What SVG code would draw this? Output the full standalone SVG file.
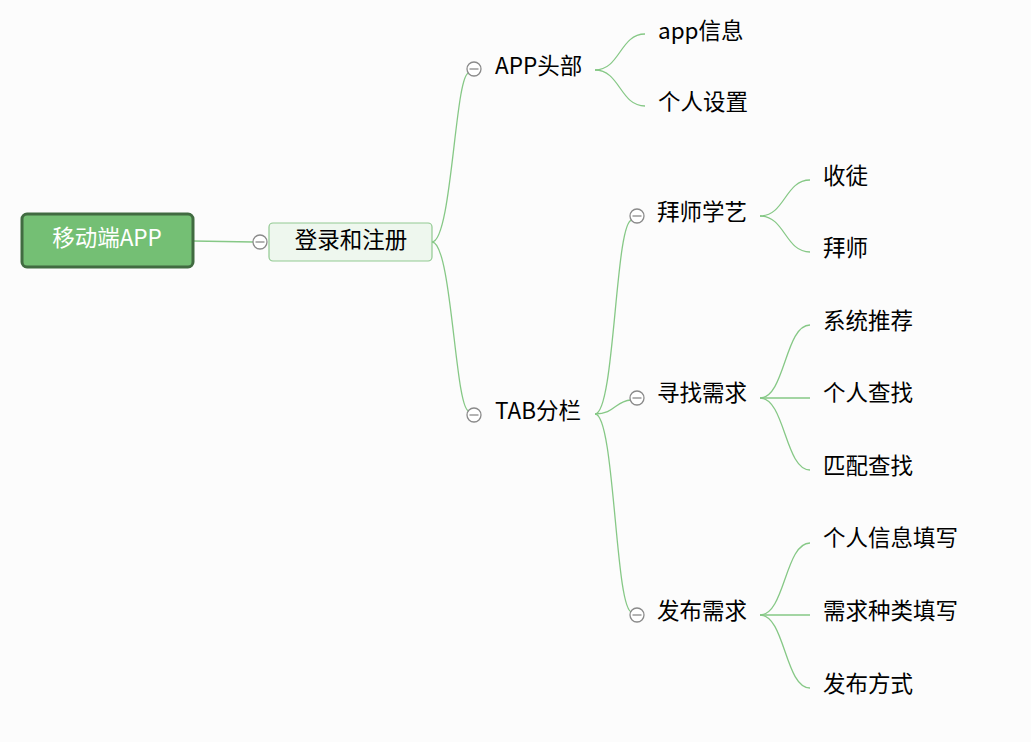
<svg xmlns="http://www.w3.org/2000/svg" width="1031" height="742" viewBox="0 0 1031 742">
<style>
text{font-family:"Microsoft YaHei","Noto Sans CJK SC","Noto Sans",sans-serif;font-size:22.5px;fill:#000;dominant-baseline:central}
.c{fill:none;stroke:#86c886;stroke-width:1.3}
.t{fill:#fff;stroke:#8a8a8a;stroke-width:1.3}
.m{stroke:#8a8a8a;stroke-width:1.3}
</style>
<defs>
<g id="tog"><circle class="t" cx="0" cy="0" r="7"/><line class="m" x1="-4.5" y1="0" x2="4.5" y2="0"/></g>
</defs>
<rect width="1031" height="742" fill="#fcfcfc"/>
<g id="connectors">
<path class="c" d="M193,241 L253,242"/>
<path class="c" d="M432,242 C452,242 455,72 469,73"/>
<path class="c" d="M432,242 C452,242 455,411 469,411"/>
<path class="c" d="M595,70 C620,70 620,34 645,34"/>
<path class="c" d="M595,70 C620,70 620,106 645,106"/>
<path class="c" d="M595,414 C615,414 615,220 632,220"/>
<path class="c" d="M595,414 C615,414 615,401 631,400"/>
<path class="c" d="M595,414 C615,414 615,612 632,612"/>
<path class="c" d="M760,216 C785,216 785,180 810,180"/>
<path class="c" d="M760,216 C785,216 785,252 810,252"/>
<path class="c" d="M760,398 C785,398 785,325 810,325"/>
<path class="c" d="M760,398 L810,398"/>
<path class="c" d="M760,398 C785,398 785,470 810,470"/>
<path class="c" d="M760,615 C785,615 785,543 810,543"/>
<path class="c" d="M760,615 L810,615"/>
<path class="c" d="M760,615 C785,615 785,688 810,688"/>
</g>
<g id="root">
<rect x="22" y="214" width="171" height="53" rx="5" fill="#74bf74" stroke="#416b41" stroke-width="3"/>
<text x="107" y="236" text-anchor="middle" style="fill:#fff">移动端APP</text>
</g>
<g id="login">
<use href="#tog" x="260" y="242"/>
<rect x="269" y="223" width="163" height="38" rx="4" fill="#eef7ee" stroke="#91c991" stroke-width="1.2"/>
<text x="351" y="238" text-anchor="middle">登录和注册</text>
</g>
<g id="apphead"><use href="#tog" x="474" y="69"/><text x="495" y="64">APP头部</text></g>
<g id="appinfo"><text x="658" y="29">app信息</text></g>
<g id="settings"><text x="658" y="100">个人设置</text></g>
<g id="tab"><use href="#tog" x="474" y="415"/><text x="495" y="409">TAB分栏</text></g>
<g id="bsxy"><use href="#tog" x="637" y="216"/><text x="657" y="210">拜师学艺</text></g>
<g id="st"><text x="823" y="174">收徒</text></g>
<g id="bs"><text x="823" y="246">拜师</text></g>
<g id="xzxq"><use href="#tog" x="637" y="398"/><text x="657" y="391">寻找需求</text></g>
<g id="xttj"><text x="823" y="319">系统推荐</text></g>
<g id="grcz"><text x="823" y="391">个人查找</text></g>
<g id="ppcz"><text x="823" y="464">匹配查找</text></g>
<g id="fbxq"><use href="#tog" x="637" y="615"/><text x="657" y="609">发布需求</text></g>
<g id="grxx"><text x="823" y="536">个人信息填写</text></g>
<g id="xqzl"><text x="823" y="609">需求种类填写</text></g>
<g id="fbfs"><text x="823" y="682">发布方式</text></g>
</svg>
